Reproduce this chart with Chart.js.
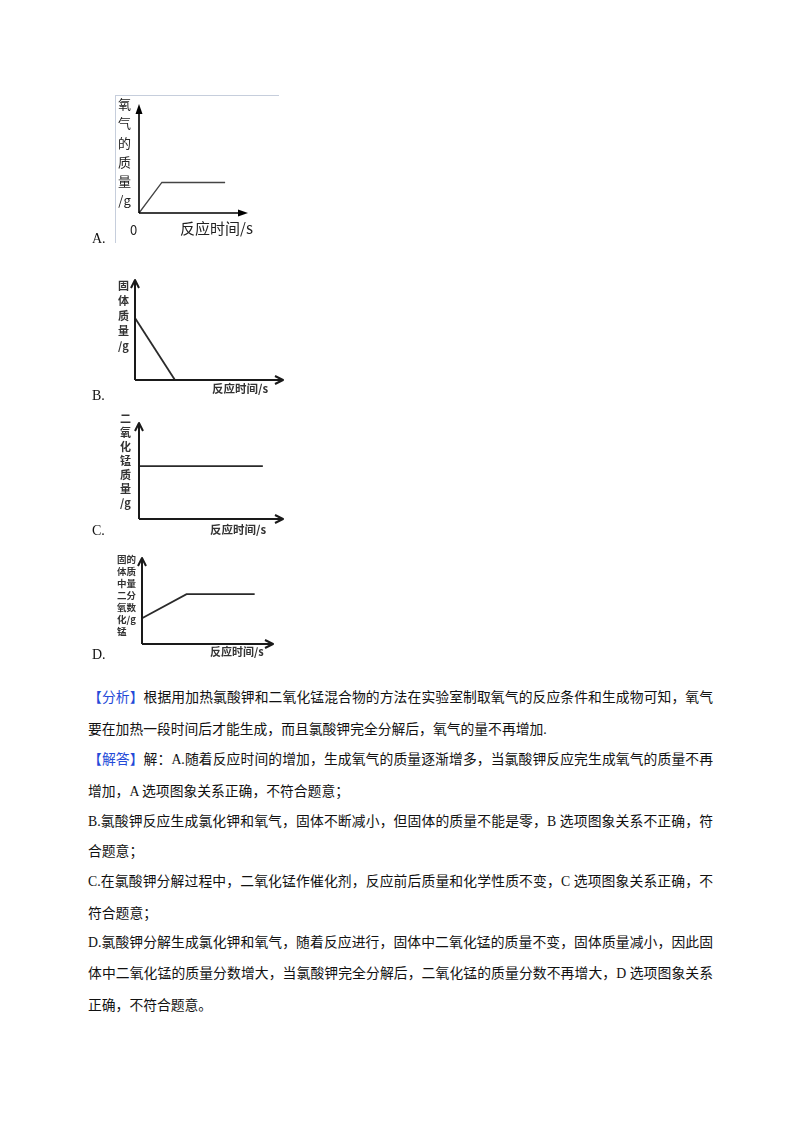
<!DOCTYPE html>
<html>
<head>
<meta charset="utf-8">
<script src="https://cdn.jsdelivr.net/npm/chart.js@4.4.0/dist/chart.umd.min.js"></script>
<style>
  body { margin: 0; background: #fff; width: 800px; height: 1132px; position: relative; overflow: hidden;
         font-family: "Liberation Serif", "Noto Sans CJK SC", serif; color: #111; }
  canvas { position: absolute; }
  .opt { position: absolute; font-size: 14px; line-height: 16px; }
  .vl { position: absolute; text-align: center; font-family: "Noto Sans CJK SC", sans-serif; color: #222; }
  .vl.b { font-weight: bold; color: #333; }
  .row { position: absolute; left: 117px; height: 11px; line-height: 11px; font-size: 9.5px; font-weight: bold;
         color: #333; font-family: "Noto Sans CJK SC", sans-serif; white-space: nowrap; }
  .xl { position: absolute; font-family: "Noto Sans CJK SC", sans-serif; color: #222; white-space: nowrap; line-height: 16px; }
  .xl.b { font-weight: bold; color: #333; }
  .frame { position: absolute; left: 115px; top: 95px; width: 163px; height: 147px;
           border-top: 1px solid #c6cedc; border-left: 1px solid #c6cedc; }
  .ln { position: absolute; left: 88px; width: 625px; height: 20px; line-height: 20px; font-size: 13.8px; white-space: nowrap; }
  .ln.full { text-align: justify; text-align-last: justify; }
  .tag { color: #2449d8; }
</style>
</head>
<body>

<div class="frame"></div>
<canvas id="chart-a"></canvas>
<canvas id="chart-b"></canvas>
<canvas id="chart-c"></canvas>
<canvas id="chart-d"></canvas>

<!-- A -->
<div class="vl" style="left:117px;top:94px;width:15px;font-size:13px;line-height:19.3px">氧<br>气<br>的<br>质<br>量<br>/g</div>
<div class="xl" style="left:130px;top:222px;font-size:13px">0</div>
<div class="xl" style="left:180px;top:220px;font-size:15px">反应时间/s</div>
<div class="opt" style="left:92px;top:231px">A.</div>

<!-- B -->
<div class="vl b" style="left:117px;top:278px;width:13px;font-size:11px;line-height:15px">固<br>体<br>质<br>量<br>/g</div>
<div class="xl b" style="left:212px;top:380px;font-size:11.5px">反应时间/s</div>
<div class="opt" style="left:92px;top:388px">B.</div>

<!-- C -->
<div class="vl b" style="left:119px;top:411px;width:13px;font-size:11px;line-height:14px">二<br>氧<br>化<br>锰<br>质<br>量<br>/g</div>
<div class="xl b" style="left:210px;top:521px;font-size:11.5px">反应时间/s</div>
<div class="opt" style="left:92px;top:523px">C.</div>

<!-- D -->
<div class="row" style="top:554px">固的</div>
<div class="row" style="top:566px">体质</div>
<div class="row" style="top:578px">中量</div>
<div class="row" style="top:590px">二分</div>
<div class="row" style="top:602px">氧数</div>
<div class="row" style="top:614px">化/g</div>
<div class="row" style="top:626px">锰</div>
<div class="xl b" style="left:210px;top:643px;font-size:11px">反应时间/s</div>
<div class="opt" style="left:92px;top:647px">D.</div>

<!-- analysis text -->
<div class="ln full" style="top:688px"><span class="tag">【分析】</span>根据用加热氯酸钾和二氧化锰混合物的方法在实验室制取氧气的反应条件和生成物可知，氧气</div>
<div class="ln" style="top:720px">要在加热一段时间后才能生成，而且氯酸钾完全分解后，氧气的量不再增加.</div>
<div class="ln full" style="top:750px"><span class="tag">【解答】</span>解：A.随着反应时间的增加，生成氧气的质量逐渐增多，当氯酸钾反应完生成氧气的质量不再</div>
<div class="ln" style="top:782px">增加，A 选项图象关系正确，不符合题意；</div>
<div class="ln full" style="top:812px">B.氯酸钾反应生成氯化钾和氧气，固体不断减小，但固体的质量不能是零，B 选项图象关系不正确，符</div>
<div class="ln" style="top:842px">合题意；</div>
<div class="ln full" style="top:872px">C.在氯酸钾分解过程中，二氧化锰作催化剂，反应前后质量和化学性质不变，C 选项图象关系正确，不</div>
<div class="ln" style="top:904px">符合题意；</div>
<div class="ln full" style="top:933px">D.氯酸钾分解生成氯化钾和氧气，随着反应进行，固体中二氧化锰的质量不变，固体质量减小，因此固</div>
<div class="ln full" style="top:964px">体中二氧化锰的质量分数增大，当氯酸钾完全分解后，二氧化锰的质量分数不再增大，D 选项图象关系</div>
<div class="ln" style="top:996px">正确，不符合题意。</div>

<script>
// values read off the sketches, axes run 0..100 (arbitrary units, no ticks)
const axisMax = 100;

const timeA = [0, 21, 79];
const oxygenMassA = [0, 28, 28];

const timeB = [0, 27];
const solidMassB = [62, 0];

const timeC = [0, 86];
const mno2MassC = [55, 55];

const timeD = [0, 34, 86];
const mno2FractionD = [30, 58, 58];


// draws both axes with arrowheads from the scales
const axesArrows = {
    id: 'axesArrows',
    afterDatasetsDraw(chart, args, opts) {
        const { ctx, scales: { x, y } } = chart;
        const x0 = x.getPixelForValue(0);
        const y0 = y.getPixelForValue(0);
        const xEnd = x.getPixelForValue(axisMax);
        const yEnd = y.getPixelForValue(axisMax);
        ctx.save();
        ctx.strokeStyle = opts.color;
        ctx.fillStyle = opts.color;
        ctx.lineWidth = opts.width;
        ctx.lineJoin = 'round';
        ctx.beginPath();
        ctx.moveTo(x0, y0);
        ctx.lineTo(x0, yEnd + (opts.filled ? 4 : 0));
        ctx.moveTo(x0, y0);
        ctx.lineTo(xEnd - (opts.filled ? 4 : 0), y0);
        ctx.stroke();
        if (opts.filled) {
            ctx.beginPath();
            ctx.moveTo(x0, yEnd);
            ctx.lineTo(x0 - 3.5, yEnd + 10);
            ctx.lineTo(x0 + 3.5, yEnd + 10);
            ctx.closePath();
            ctx.fill();
            ctx.beginPath();
            ctx.moveTo(xEnd, y0);
            ctx.lineTo(xEnd - 10, y0 - 3.5);
            ctx.lineTo(xEnd - 10, y0 + 3.5);
            ctx.closePath();
            ctx.fill();
        } else {
            ctx.beginPath();
            ctx.moveTo(x0 - 4, yEnd + 8);
            ctx.lineTo(x0, yEnd);
            ctx.lineTo(x0 + 4, yEnd + 8);
            ctx.moveTo(xEnd - 8, y0 - 4);
            ctx.lineTo(xEnd, y0);
            ctx.lineTo(xEnd - 8, y0 + 4);
            ctx.stroke();
        }
        ctx.restore();
    }
};

function makeChart(id, xs, ys, box) {
    const pad = 8;
    const canvas = document.getElementById(id);
    canvas.width = box.right - box.left + pad * 2;
    canvas.height = box.bottom - box.top + pad * 2;
    canvas.style.left = (box.left - pad) + 'px';
    canvas.style.top = (box.top - pad) + 'px';

    new Chart(canvas, {
        type: 'line',
        data: {
            datasets: [{
                data: xs.map((v, i) => ({ x: v, y: ys[i] })),
                borderColor: box.lineColor,
                borderWidth: box.lineWidth,
                pointRadius: 0,
                tension: 0,
                clip: false
            }]
        },
        options: {
            responsive: false,
            animation: false,
            devicePixelRatio: 1,
            events: [],
            layout: { padding: pad },
            plugins: {
                legend: { display: false },
                tooltip: { enabled: false },
                axesArrows: { color: box.axisColor, width: box.axisWidth, filled: box.filled }
            },
            scales: {
                x: { type: 'linear', display: false, min: 0, max: axisMax },
                y: { type: 'linear', display: false, min: 0, max: axisMax }
            }
        },
        plugins: [axesArrows]
    });
}

makeChart('chart-a', timeA, oxygenMassA, {
    left: 139, bottom: 213, right: 248, top: 104,
    filled: true, axisColor: '#000', axisWidth: 1.6, lineColor: '#444', lineWidth: 1.3
});
makeChart('chart-b', timeB, solidMassB, {
    left: 135, bottom: 380, right: 283, top: 280,
    filled: false, axisColor: '#1a1a1a', axisWidth: 2, lineColor: '#2a2a2a', lineWidth: 1.8
});
makeChart('chart-c', timeC, mno2MassC, {
    left: 139, bottom: 519, right: 283, top: 423,
    filled: false, axisColor: '#1a1a1a', axisWidth: 2, lineColor: '#2a2a2a', lineWidth: 1.8
});
makeChart('chart-d', timeD, mno2FractionD, {
    left: 142, bottom: 644, right: 273, top: 558,
    filled: false, axisColor: '#1a1a1a', axisWidth: 2, lineColor: '#2a2a2a', lineWidth: 1.8
});
</script>
</body>
</html>
